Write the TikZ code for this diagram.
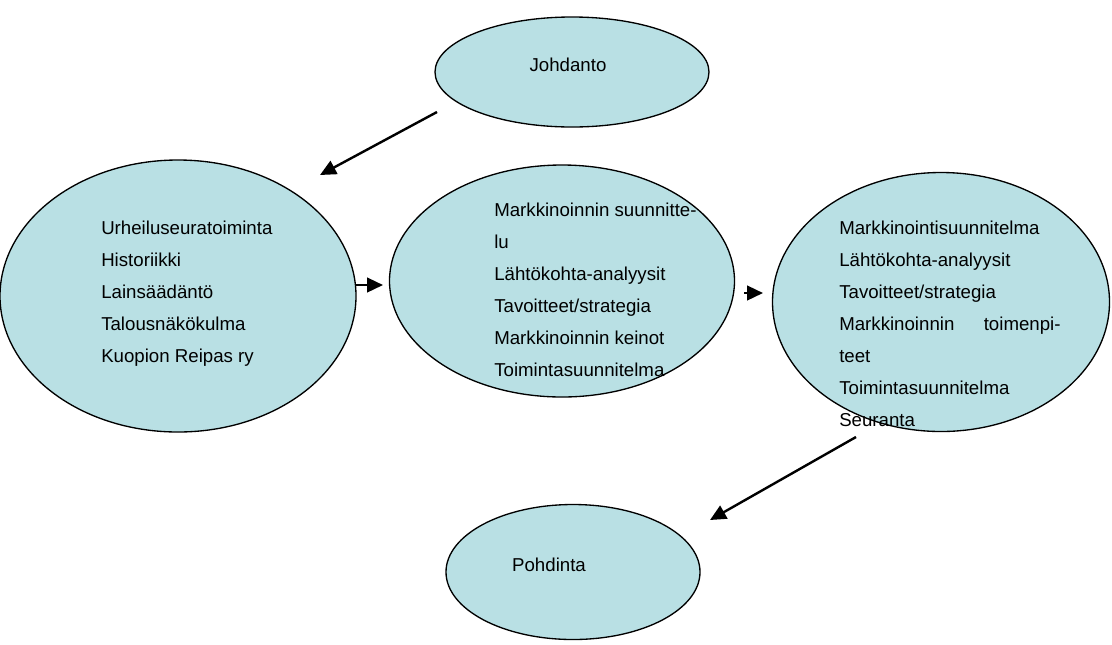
\documentclass[tikz,border=0pt]{standalone}
\usepackage{fontspec}
\setmainfont{Liberation Sans}
\usetikzlibrary{shapes.geometric,arrows.meta}

\definecolor{ovalblue}{RGB}{185,224,228}

\tikzset{
	oval/.style={ellipse, draw=black, line width=1pt, fill=ovalblue, inner sep=0pt},
	textblock/.style={anchor=north west, inner sep=0pt, align=left, font=\fontsize{14}{24}\selectfont},
	title/.style={inner sep=0pt, font=\fontsize{14}{17}\selectfont},
	arr/.style={-{Triangle[length=12pt,width=11pt]}, line width=1.8pt}
}

\begin{document}
\begin{tikzpicture}[x=0.75pt,y=-0.75pt]
					\useasboundingbox (0,0) rectangle (1112,644);

					\node [oval, minimum width=205.5pt, minimum height=82.5pt] (johdanto) at (572,72) {};
					\node [oval, minimum width=267pt, minimum height=204pt] (tausta) at (178,296) {};
					\node [oval, minimum width=258.75pt, minimum height=174pt] (suunnittelu) at (562,281) {};
					\node [oval, minimum width=252.75pt, minimum height=194.25pt] (suunnitelma) at (941,302) {};
					\node [oval, minimum width=190.5pt, minimum height=101.25pt] (pohdinta) at (573,572) {};

					\node [title] (johdantoteksti) at (568,65) {Johdanto};
					\node [title] (pohdintateksti) at (549,565) {Pohdinta};

					\node [textblock] (taustateksti) at (101,221) {Urheiluseuratoiminta\\ Historiikki\\ Lainsäädäntö\\ Talousnäkökulma\\ Kuopion Reipas ry};
					\node [textblock] (suunnitteluteksti) at (494,203) {Markkinoinnin suunnitte-\\ lu\\ Lähtökohta-analyysit\\ Tavoitteet/strategia\\ Markkinoinnin keinot\\ Toimintasuunnitelma};
					\node [textblock] (suunnitelmateksti) at (839,221) {Markkinointisuunnitelma\\ Lähtökohta-analyysit\\ Tavoitteet/strategia\\ \hbox to 166pt{Markkinoinnin\hfill toimenpi-}\\ teet\\ Toimintasuunnitelma\\ Seuranta};

					% nuolten päät
					\coordinate (a1) at (437,112);
					\coordinate (b1) at (320,175);
					\coordinate (a2) at (355,285);
					\coordinate (b2) at (383,285);
					\coordinate (a3) at (744,293);
					\coordinate (b3) at (763,293);
					\coordinate (a4) at (856,437);
					\coordinate (b4) at (710,520);

					\draw [arr] (a1) -- (b1);
					\draw [arr] (a2) -- (b2);
					\draw [arr] (a3) -- (b3);
					\draw [arr] (a4) -- (b4);
				\end{tikzpicture}
\end{document}
